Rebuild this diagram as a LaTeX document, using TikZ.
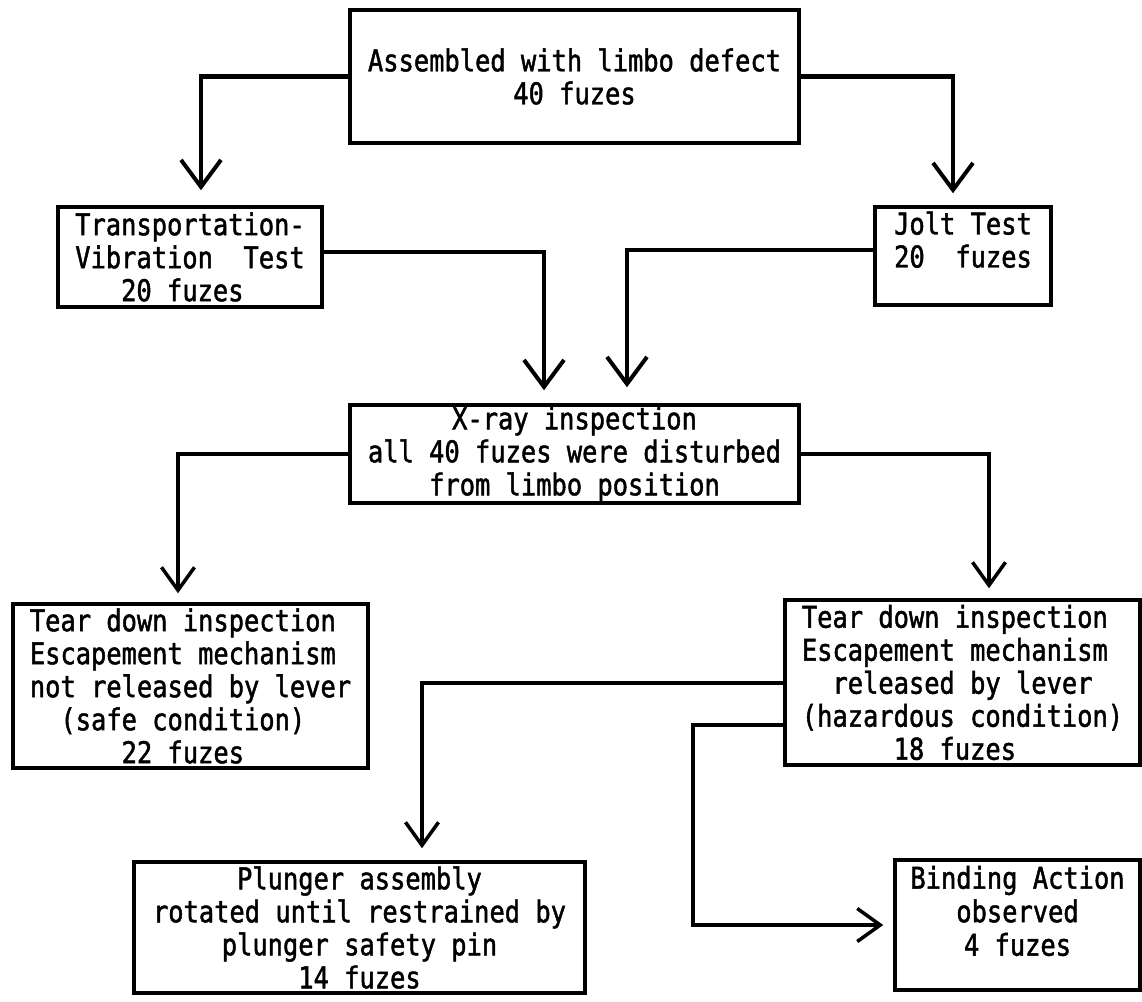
\documentclass[tikz,border=0pt]{standalone}
\usepackage{fontspec}
\newfontfamily\tw[FakeStretch=0.847,FakeBold=1.5]{DejaVu Sans Mono}
\usetikzlibrary{arrows.meta}
\tikzset{
  box/.style={draw, line width=3.5pt, inner sep=0pt, font=\tw\fontsize{30}{33}\selectfont},
  conn/.style={line width=4.5pt, -{Straight Barb[length=27pt,width=40pt,line width=4pt]}},
  connS/.style={line width=4pt, -{Straight Barb[length=23pt,width=33pt,line width=3.5pt]}},
}
\begin{document}
\begin{tikzpicture}[x=1pt,y=-1pt]
\fill[white] (0,0) rectangle (1142,1001);
\useasboundingbox (0,0) rectangle (1142,1001);

\node[box, minimum width=449pt, minimum height=133pt, align=center] (b1) at (574.5,76.5)
  {Assembled with limbo defect\\40 fuzes};
\node[box, minimum width=264pt, minimum height=100pt, align=left] (b2) at (190,257)
  {Transportation-\\Vibration~~Test\\\phantom{xxx}20 fuzes};
\node[box, minimum width=176pt, minimum height=98pt, align=left] (b3) at (963,256)
  {Jolt Test\\20~~fuzes\\\mbox{}};
\node[box, minimum width=449pt, minimum height=98pt, align=center] (b4) at (574.5,454)
  {X-ray inspection\\all 40 fuzes were disturbed\\from limbo position};
\node[box, minimum width=355pt, minimum height=164pt, align=left] (b5) at (190.5,686)
  {Tear down inspection\\Escapement mechanism\\not released by lever\\\phantom{xx}(safe condition)\\\phantom{xxxxxx}22 fuzes};
\node[box, minimum width=355pt, minimum height=165pt, align=left] (b6) at (962.5,682.5)
  {Tear down inspection\\Escapement mechanism\\\phantom{xx}released by lever\\(hazardous condition)\\\phantom{xxxxxx}18 fuzes};
\node[box, minimum width=451pt, minimum height=131pt, align=center] (b7) at (359.5,927.5)
  {Plunger assembly\\rotated until restrained by\\plunger safety pin\\14 fuzes};
\node[box, minimum width=245pt, minimum height=130pt, align=center, font=\tw\fontsize{30}{33.5}\selectfont] (b8) at (1017.5,925)
  {Binding Action\\observed\\4 fuzes\\[-5pt]\mbox{}};

\draw[conn, shorten >=15pt] (b1.west) -| ([xshift=11pt]b2.north);
\draw[conn, shorten >=12pt] (b1.east) -| ([xshift=-10pt]b3.north);
\draw[conn, shorten >=13pt] ([yshift=5pt]b2.east) -| ([xshift=-30.5pt]b4.north);
\draw[conn, shorten >=16pt] ([yshift=6pt]b3.west) -| ([xshift=52.5pt]b4.north);
\draw[connS, shorten >=9pt] (b4.west) -| ([xshift=-12.5pt]b5.north);
\draw[connS, shorten >=10pt] (b4.east) -| ([xshift=26.5pt]b6.north);
\draw[connS, shorten >=12pt] (b6.west) -| ([xshift=62.5pt]b7.north);
\draw[connS, shorten >=10pt] ([yshift=-42.5pt]b6.west) -- ++(-90,0) |- (b8.west);
\end{tikzpicture}
\end{document}
